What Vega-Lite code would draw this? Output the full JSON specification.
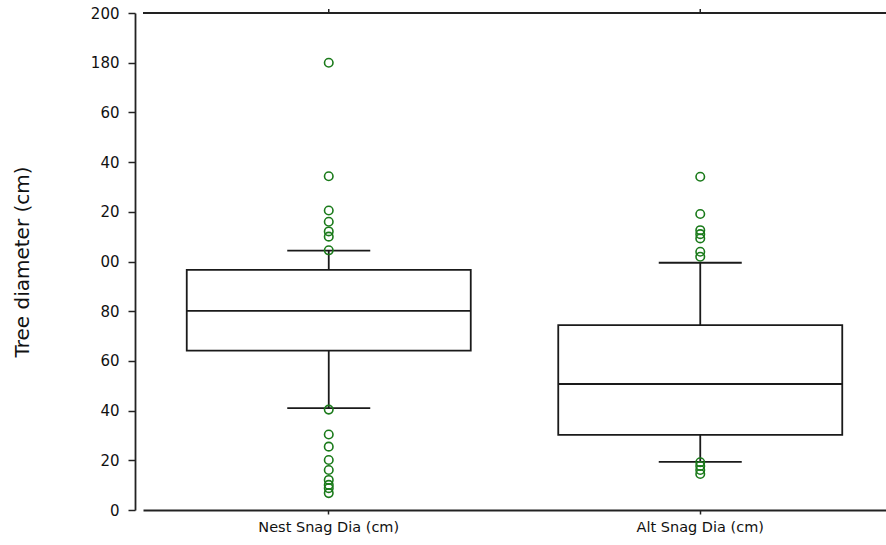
{
  "$schema": "https://vega.github.io/schema/vega-lite/v6.json",
  "width": 743,
  "height": 497,
  "autosize": {"type": "none"},
  "padding": {"left": 143, "top": 13, "right": 0, "bottom": 35},
  "background": "white",
  "config": {"view": {"stroke": null}},
  "datasets": {
    "boxes": [
      {"group": "Nest Snag Dia (cm)", "lower": 41, "q1": 64.1, "median": 80.1, "q3": 96.6, "upper": 104.4},
      {"group": "Alt Snag Dia (cm)", "lower": 19.4, "q1": 30.2, "median": 50.7, "q3": 74.4, "upper": 99.5}
    ],
    "outliers": [
      {"group": "Nest Snag Dia (cm)", "value": 180},
      {"group": "Nest Snag Dia (cm)", "value": 134.3},
      {"group": "Nest Snag Dia (cm)", "value": 120.5},
      {"group": "Nest Snag Dia (cm)", "value": 116},
      {"group": "Nest Snag Dia (cm)", "value": 112.1},
      {"group": "Nest Snag Dia (cm)", "value": 110},
      {"group": "Nest Snag Dia (cm)", "value": 104.5},
      {"group": "Nest Snag Dia (cm)", "value": 40.4},
      {"group": "Nest Snag Dia (cm)", "value": 30.4},
      {"group": "Nest Snag Dia (cm)", "value": 25.5},
      {"group": "Nest Snag Dia (cm)", "value": 20.1},
      {"group": "Nest Snag Dia (cm)", "value": 16.1},
      {"group": "Nest Snag Dia (cm)", "value": 12.1},
      {"group": "Nest Snag Dia (cm)", "value": 10.1},
      {"group": "Nest Snag Dia (cm)", "value": 8.8},
      {"group": "Nest Snag Dia (cm)", "value": 6.8},
      {"group": "Alt Snag Dia (cm)", "value": 134.1},
      {"group": "Alt Snag Dia (cm)", "value": 119.1},
      {"group": "Alt Snag Dia (cm)", "value": 112.6},
      {"group": "Alt Snag Dia (cm)", "value": 111},
      {"group": "Alt Snag Dia (cm)", "value": 109.3},
      {"group": "Alt Snag Dia (cm)", "value": 103.9},
      {"group": "Alt Snag Dia (cm)", "value": 101.9},
      {"group": "Alt Snag Dia (cm)", "value": 19.2},
      {"group": "Alt Snag Dia (cm)", "value": 17.7},
      {"group": "Alt Snag Dia (cm)", "value": 16.1},
      {"group": "Alt Snag Dia (cm)", "value": 14.5}
    ]
  },
  "layer": [
    {
      "data": {"name": "boxes"},
      "mark": {"type": "rule", "color": "#1a1a1a", "strokeWidth": 1.8},
      "encoding": {
        "x": {
          "field": "group",
          "type": "nominal",
          "sort": ["Nest Snag Dia (cm)", "Alt Snag Dia (cm)"],
          "scale": {"paddingInner": 0, "paddingOuter": 0},
          "axis": {
            "orient": "bottom",
            "title": null,
            "labelAngle": 0,
            "labelFont": "DejaVu Sans",
            "labelFontSize": 14.5,
            "labelColor": "#111",
            "labelPadding": 6,
            "domainColor": "#222",
            "domainWidth": 1.8,
            "tickColor": "#222",
            "tickSize": 4,
            "tickWidth": 1.5,
            "grid": false
          }
        },
        "y": {
          "field": "q3",
          "type": "quantitative",
          "scale": {"domain": [0, 200], "nice": false, "zero": true},
          "axis": {
            "title": "Tree diameter (cm)",
            "titleFont": "DejaVu Sans",
            "titleFontSize": 20,
            "titleFontWeight": "normal",
            "titleColor": "#111",
            "titlePadding": 58,
            "offset": 8,
            "values": [0, 20, 40, 60, 80, 100, 120, 140, 160, 180, 200],
            "labelExpr": "datum.value >= 100 && datum.value <= 160 ? substring(datum.label, 1, 3) : datum.label",
            "labelFont": "DejaVu Sans",
            "labelFontSize": 15,
            "labelColor": "#111",
            "labelPadding": 9,
            "tickSize": 7,
            "tickColor": "#222",
            "tickWidth": 1.5,
            "domainColor": "#222",
            "domainWidth": 1.8,
            "grid": false
          }
        },
        "y2": {"field": "upper"}
      }
    },
    {
      "data": {"name": "boxes"},
      "mark": {"type": "rule", "color": "#1a1a1a", "strokeWidth": 1.8},
      "encoding": {
        "x": {"field": "group", "type": "nominal", "sort": ["Nest Snag Dia (cm)", "Alt Snag Dia (cm)"]},
        "y": {"field": "lower", "type": "quantitative"},
        "y2": {"field": "q1"}
      }
    },
    {
      "data": {"name": "boxes"},
      "mark": {"type": "bar", "fill": "white", "stroke": "#1a1a1a", "strokeWidth": 1.8, "size": 284},
      "encoding": {
        "x": {"field": "group", "type": "nominal", "sort": ["Nest Snag Dia (cm)", "Alt Snag Dia (cm)"]},
        "y": {"field": "q1", "type": "quantitative"},
        "y2": {"field": "q3"}
      }
    },
    {
      "data": {"name": "boxes"},
      "mark": {"type": "tick", "color": "#1a1a1a", "thickness": 1.8, "size": 284, "opacity": 1},
      "encoding": {
        "x": {"field": "group", "type": "nominal", "sort": ["Nest Snag Dia (cm)", "Alt Snag Dia (cm)"]},
        "y": {"field": "median", "type": "quantitative"}
      }
    },
    {
      "data": {"name": "boxes"},
      "mark": {"type": "tick", "color": "#1a1a1a", "thickness": 1.8, "size": 83, "opacity": 1},
      "encoding": {
        "x": {"field": "group", "type": "nominal", "sort": ["Nest Snag Dia (cm)", "Alt Snag Dia (cm)"]},
        "y": {"field": "upper", "type": "quantitative"}
      }
    },
    {
      "data": {"name": "boxes"},
      "mark": {"type": "tick", "color": "#1a1a1a", "thickness": 1.8, "size": 83, "opacity": 1},
      "encoding": {
        "x": {"field": "group", "type": "nominal", "sort": ["Nest Snag Dia (cm)", "Alt Snag Dia (cm)"]},
        "y": {"field": "lower", "type": "quantitative"}
      }
    },
    {
      "data": {"name": "outliers"},
      "mark": {"type": "point", "shape": "circle", "filled": false, "stroke": "#1a7a1a", "strokeWidth": 1.6, "size": 72, "opacity": 1},
      "encoding": {
        "x": {"field": "group", "type": "nominal", "sort": ["Nest Snag Dia (cm)", "Alt Snag Dia (cm)"]},
        "y": {"field": "value", "type": "quantitative"}
      }
    },
    {
      "data": {"values": [{}]},
      "mark": {"type": "rule", "color": "#222", "strokeWidth": 1.8},
      "encoding": {
        "y": {"datum": 200, "type": "quantitative"}
      }
    },
    {
      "data": {"name": "boxes"},
      "mark": {"type": "rule", "color": "#222", "strokeWidth": 1.5},
      "encoding": {
        "x": {"field": "group", "type": "nominal", "sort": ["Nest Snag Dia (cm)", "Alt Snag Dia (cm)"]},
        "y": {"datum": 200, "type": "quantitative"},
        "y2": {"datum": 201.6}
      }
    }
  ]
}
